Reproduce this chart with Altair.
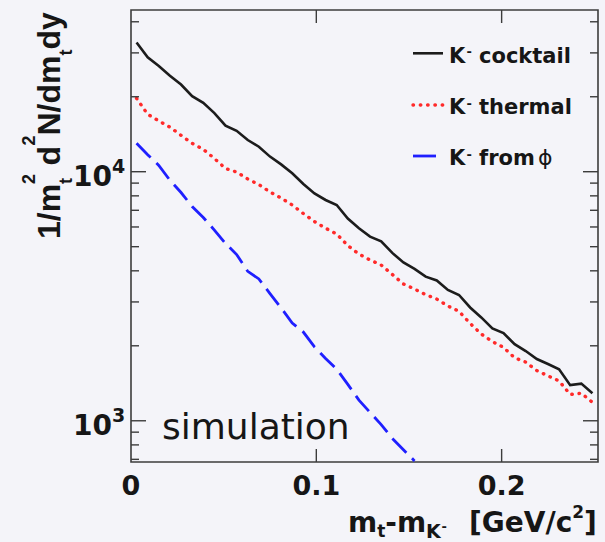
import altair as alt
import pandas as pd

FONT_H = "DejaVu Sans"       # horizontal text
FONT_V = "Liberation Sans"   # rotated y-axis title
INK = "#161616"
FRAME = "#3c3c3c"
BG = "#f4f4f9"

W, H = 467, 452  # plot area in px

# bin centres of m_t - m_K- [GeV/c^2]
mt = [0.003, 0.009, 0.015, 0.021, 0.027, 0.033, 0.039, 0.045, 0.051, 0.057,
      0.063, 0.069, 0.075, 0.081, 0.087, 0.093, 0.099, 0.105, 0.111, 0.117,
      0.123, 0.129, 0.135, 0.141, 0.147, 0.153, 0.159, 0.165, 0.171, 0.177,
      0.183, 0.189, 0.195, 0.201, 0.207, 0.213, 0.219, 0.225, 0.231, 0.237,
      0.243, 0.249]

# 1/m_t^2 d^2N/dm_t dy for each source
cocktail = [33000, 28800, 26600, 24300, 22400, 20100, 18900, 17200, 15300, 14600,
            13400, 12600, 11500, 10700, 9850, 8930, 8180, 7700, 7350, 6490,
            5930, 5490, 5250, 4720, 4320, 4070, 3790, 3660, 3350, 3200,
            2850, 2600, 2350, 2250, 2030, 1905, 1770, 1690, 1610, 1390,
            1410, 1290]
thermal = [19700, 17000, 16000, 15100, 14000, 13000, 12300, 11300, 10300, 9970,
           9350, 8880, 8290, 7840, 7350, 6790, 6310, 5930, 5620, 5050,
           4670, 4420, 4220, 3870, 3540, 3380, 3210, 3080, 2890, 2750,
           2460, 2230, 2080, 1970, 1790, 1720, 1590, 1515, 1445, 1275,
           1290, 1185]
from_phi = [13000, 11700, 10600, 9240, 8250, 7250, 6550, 5830, 5150, 4650,
            3980, 3710, 3240, 2840, 2470, 2270, 1980, 1780, 1610, 1400,
            1210, 1080, 965, 850, 765, 690]

# axis ticks and labels
x_tick_major = [0.1, 0.2]
x_label_values = [0, 0.1, 0.2]
x_label_text = ["0", "0.1", "0.2"]
y_tick_major = [1000, 10000]
y_label_exp = ["3", "4"]
y_tick_minor = [700, 800, 900, 2000, 3000, 4000, 5000, 6000, 7000, 8000, 9000,
                20000, 30000, 40000]

rows = []
for name, vals in (("cocktail", cocktail), ("thermal", thermal), ("phi", from_phi)):
    for m, v in zip(mt, vals):
        rows.append({"mt": m, "yield": v, "series": name})
spectra = pd.DataFrame(rows)

xs = alt.Scale(domain=[0, 0.252], nice=False, zero=False)
ys = alt.Scale(type="log", domain=[683, 44600], nice=False)
one = pd.DataFrame({"t": [""]})


def spectrum(name, **style):
    return (
        alt.Chart(spectra)
        .transform_filter(alt.datum.series == name)
        .mark_line(clip=True, **style)
        .encode(
            x=alt.X("mt:Q", scale=xs, axis=None),
            y=alt.Y("yield:Q", scale=ys, axis=None),
            order="mt:Q",
        )
    )


def y_ticks(values, length):
    d = pd.DataFrame({"v": values})
    left = alt.Chart(d).mark_rule(color=FRAME, strokeWidth=1.4).encode(
        y=alt.Y("v:Q", scale=ys, axis=None), x=alt.value(0), x2=alt.value(length))
    right = alt.Chart(d).mark_rule(color=FRAME, strokeWidth=1.4).encode(
        y=alt.Y("v:Q", scale=ys, axis=None), x=alt.value(W), x2=alt.value(W - length))
    return [left, right]


def x_ticks(values, length):
    d = pd.DataFrame({"v": values})
    bottom = alt.Chart(d).mark_rule(color=FRAME, strokeWidth=1.4).encode(
        x=alt.X("v:Q", scale=xs, axis=None), y=alt.value(H), y2=alt.value(H - length))
    top = alt.Chart(d).mark_rule(color=FRAME, strokeWidth=1.4).encode(
        x=alt.X("v:Q", scale=xs, axis=None), y=alt.value(0), y2=alt.value(length))
    return [bottom, top]


def text(s, x, y, size, weight="bold", font=FONT_H, angle=0):
    return alt.Chart(pd.DataFrame({"t": [s]})).mark_text(
        align="left", baseline="alphabetic", font=font, fontSize=size,
        fontWeight=weight, color=INK, angle=angle,
    ).encode(x=alt.value(x), y=alt.value(y), text="t:N")


def sample(y, x2, **style):
    return alt.Chart(one).mark_rule(**style).encode(
        x=alt.value(282), x2=alt.value(x2), y=alt.value(y))


layers = []

# spectra
layers.append(spectrum("phi", color="#1f1fff", strokeWidth=2.8, strokeDash=[20, 8]))
layers.append(spectrum("thermal", color="#ff2a2a", strokeWidth=3.4,
                       strokeDash=[0.5, 6.8], strokeCap="round"))
layers.append(spectrum("cocktail", color="#1c1c1c", strokeWidth=2.6))

# ticks pointing into the frame
layers += y_ticks(y_tick_major, 15)
layers += y_ticks(y_tick_minor, 8)
layers += x_ticks(x_tick_major, 13)

# y labels 10^n
ylab = pd.DataFrame({"v": y_tick_major, "base": ["10", "10"], "exp": y_label_exp})
layers.append(alt.Chart(ylab).mark_text(
    align="right", baseline="alphabetic", font=FONT_H, fontSize=28,
    fontWeight="bold", color=INK, dy=14,
).encode(y=alt.Y("v:Q", scale=ys, axis=None), x=alt.value(-19), text="base:N"))
layers.append(alt.Chart(ylab).mark_text(
    align="left", baseline="alphabetic", font=FONT_H, fontSize=19,
    fontWeight="bold", color=INK, dy=1,
).encode(y=alt.Y("v:Q", scale=ys, axis=None), x=alt.value(-19), text="exp:N"))

# x labels
xlab = pd.DataFrame({"v": x_label_values, "lab": x_label_text})
layers.append(alt.Chart(xlab).mark_text(
    align="center", baseline="alphabetic", font=FONT_H, fontSize=27,
    fontWeight="bold", color=INK,
).encode(x=alt.X("v:Q", scale=xs, axis=None), y=alt.value(485), text="lab:N"))

# x title: m_t-m_K- [GeV/c^2]
xb = 522
layers += [
    text("m", 217, xb, 28),
    text("t", 246.2, xb + 5, 17),
    text("-", 254.3, xb, 28),
    text("m", 265.9, xb, 28),
    text("K", 295.1, xb + 6, 19),
    text("-", 310.5, xb - 1, 13),
    text("[GeV/c", 338, xb, 28),
    text("2", 441.3, xb - 14, 17),
    text("]", 453.1, xb, 28),
]

# y title: 1/m_t^2 d^2N/dm_t dy (reads bottom to top)
yb, ysup, ysub = -71, -96, -59
layers += [
    text("1/m", yb, 229, 32, font=FONT_V, angle=270),
    text("2", ysup, 173.9, 18, font=FONT_V, angle=270),
    text("t", ysub, 173.9, 18, font=FONT_V, angle=270),
    text("d", yb, 155.5, 32, font=FONT_V, angle=270),
    text("2", ysup, 135.5, 18, font=FONT_V, angle=270),
    text("N/dm", yb, 125.5, 32, font=FONT_V, angle=270),
    text("t", ysub, 45.5, 18, font=FONT_V, angle=270),
    text("dy", yb, 39.5, 32, font=FONT_V, angle=270),
]

# legend
layers += [
    sample(43.3, 312, color="#1c1c1c", strokeWidth=2.6),
    sample(95, 312, color="#ff2a2a", strokeWidth=3.4, strokeDash=[0.5, 6.8],
           strokeCap="round"),
    sample(146, 305, color="#1f1fff", strokeWidth=2.8),
]
for yrow, label in ((52.7, "cocktail"), (104, "thermal"), (155, "from")):
    layers += [
        text("K", 318, yrow, 21),
        text("-", 335.5, yrow - 6.5, 13),
        text(label, 348, yrow, 21),
    ]
layers.append(text("\u03d5", 407, 155, 22, weight="normal"))

# annotation
layers.append(text("simulation", 31, 428.5, 36, weight="normal"))

chart = (
    alt.layer(*layers)
    .properties(
        width=W,
        height=H,
        autosize="none",
        padding={"left": 131, "top": 10, "right": 7, "bottom": 80},
        background=BG,
    )
    .configure_view(stroke=FRAME, strokeWidth=1.6)
)

chart.save("out.html", embed_options={"renderer": "svg", "actions": False})
